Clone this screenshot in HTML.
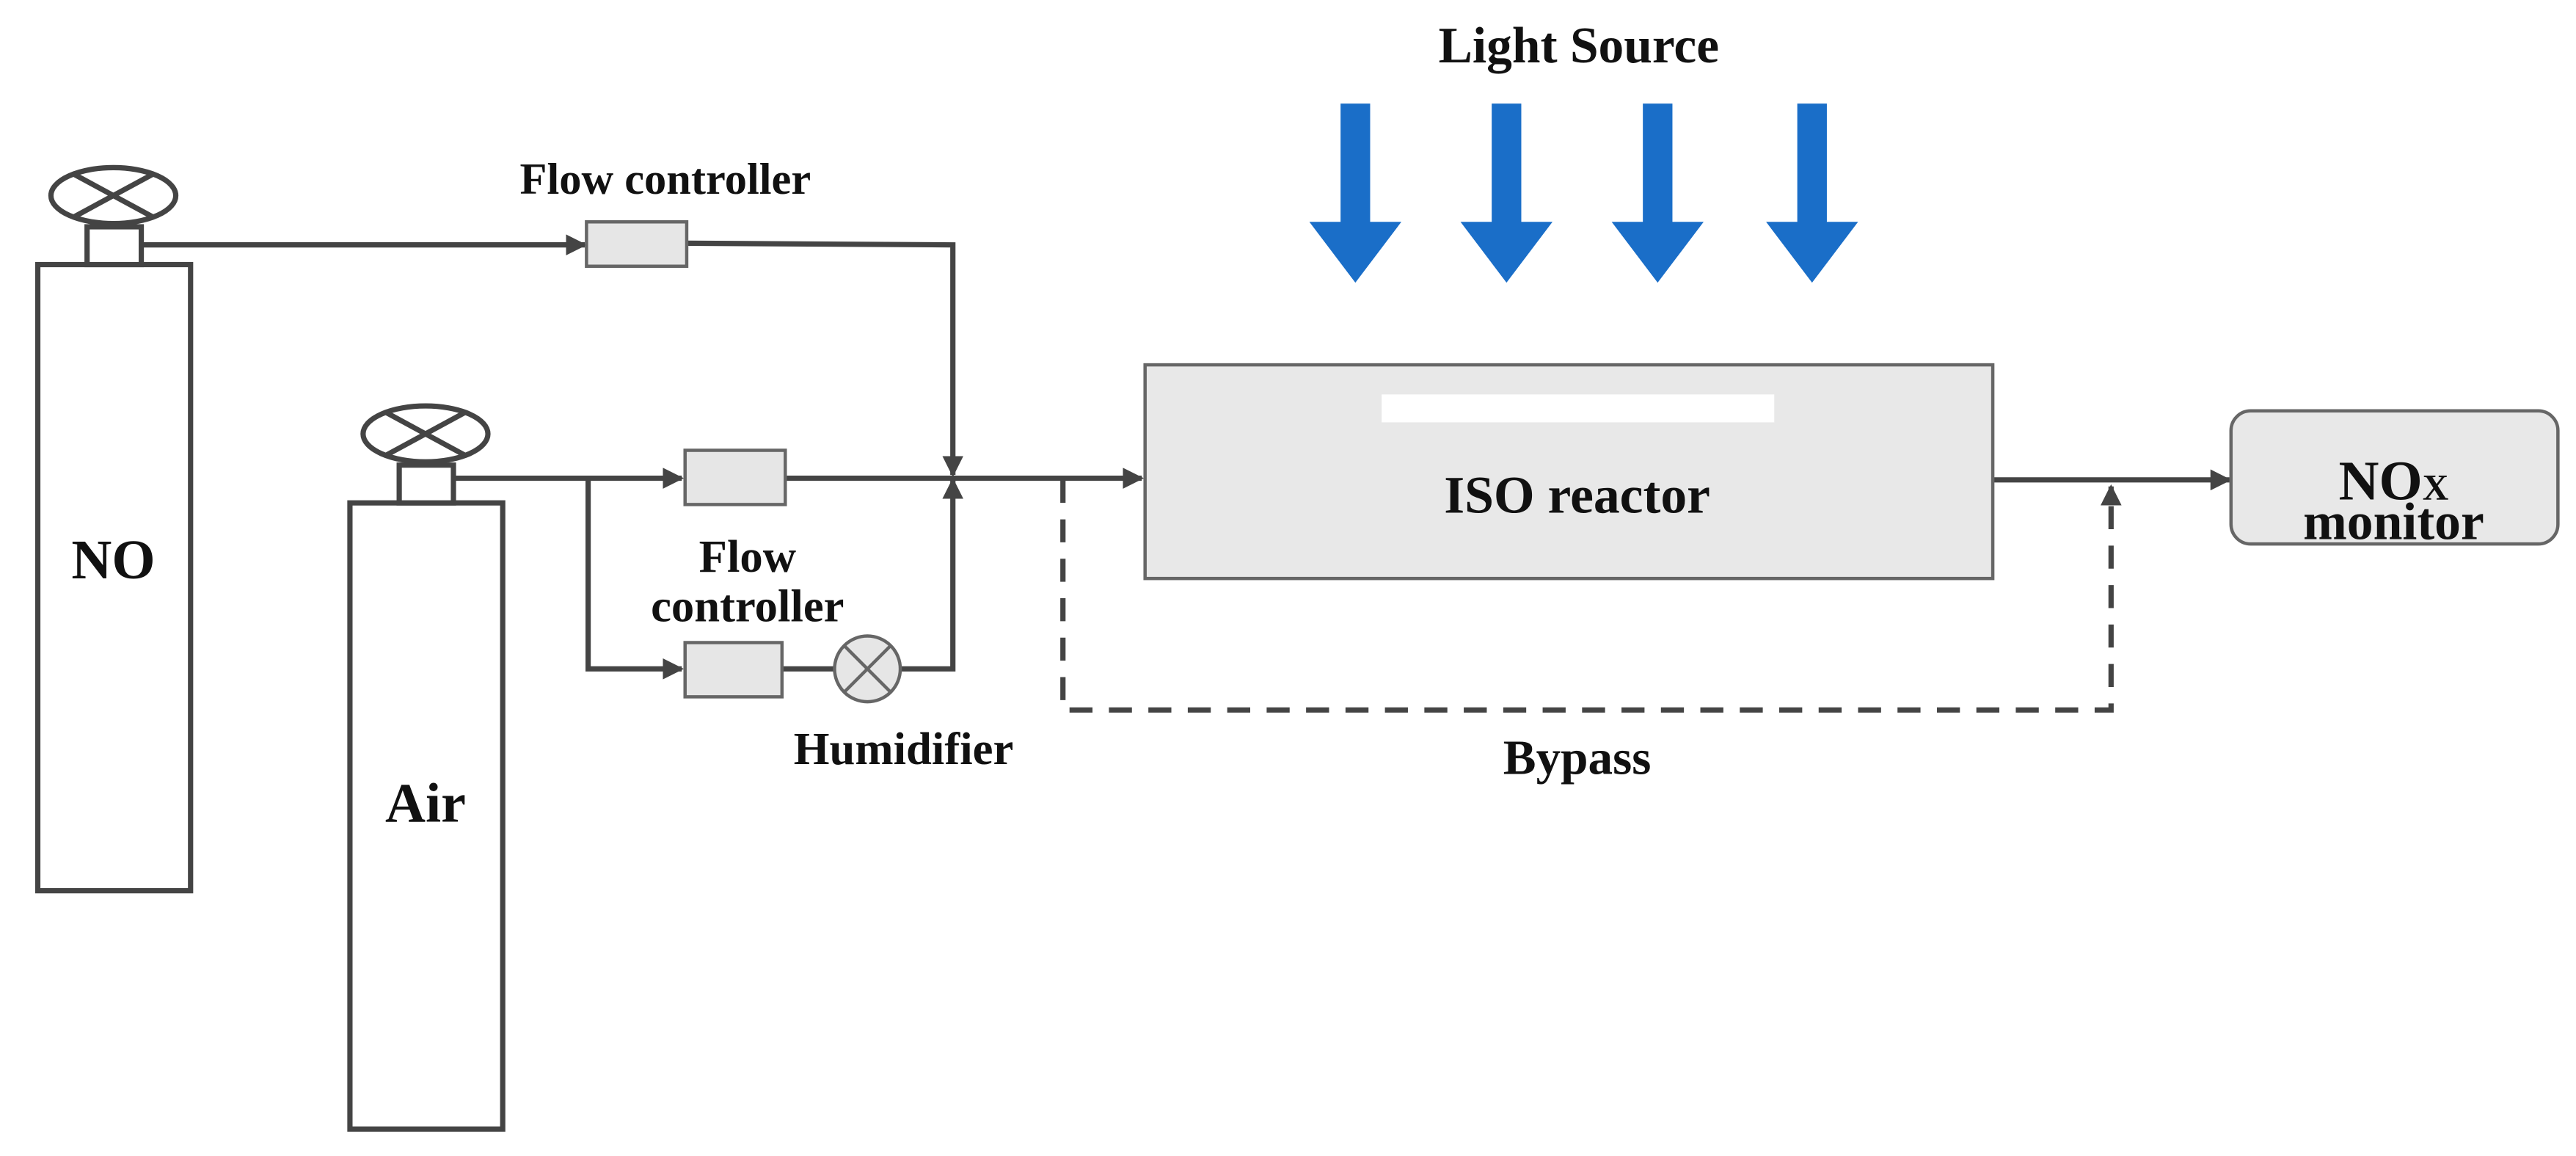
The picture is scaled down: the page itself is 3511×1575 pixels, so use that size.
<!DOCTYPE html>
<html><head><meta charset="utf-8"><style>
html,body{margin:0;padding:0;background:#fff;}
svg{display:block;}
text{font-family:"Liberation Serif",serif;font-weight:bold;fill:#111;text-anchor:middle;}
</style></head><body>
<svg width="3511" height="1575" viewBox="0 0 1568 703.4" preserveAspectRatio="none" xmlns="http://www.w3.org/2000/svg">
<defs>
<marker id="ah" viewBox="0 0 10 10" refX="9" refY="5" markerWidth="4" markerHeight="4" orient="auto" markerUnits="strokeWidth">
<path d="M0,0 L10,5 L0,10 z" fill="#444"/></marker>
</defs>
<g stroke="#444" stroke-width="3.2" fill="none">
<rect x="23" y="161" width="93" height="381" fill="#fff"/>
<rect x="53" y="138" width="33" height="23" fill="#fff"/>
<ellipse cx="69" cy="119" rx="38" ry="17" fill="#fff"/>
<line x1="45" y1="106" x2="93" y2="132"/><line x1="45" y1="132" x2="93" y2="106"/>
<rect x="213" y="306" width="93" height="381" fill="#fff"/>
<rect x="243" y="283" width="33" height="23" fill="#fff"/>
<ellipse cx="259" cy="264" rx="38" ry="17" fill="#fff"/>
<line x1="235" y1="251" x2="283" y2="277"/><line x1="235" y1="277" x2="283" y2="251"/>
<line x1="86" y1="149" x2="356" y2="149" marker-end="url(#ah)"/>
<polyline points="418,148 580,149 580,289" marker-end="url(#ah)"/>
<line x1="276" y1="291" x2="415" y2="291" marker-end="url(#ah)"/>
<line x1="478" y1="291" x2="695" y2="291" marker-end="url(#ah)"/>
<polyline points="358,291 358,407 415,407" marker-end="url(#ah)"/>
<line x1="476" y1="407" x2="508" y2="407"/>
<polyline points="548,407 580,407 580,292" marker-end="url(#ah)"/>
<line x1="1213" y1="292" x2="1357" y2="292" marker-end="url(#ah)"/>
<polyline points="647,292 647,432 1285,432 1285,296" stroke-dasharray="14,10" marker-end="url(#ah)"/>
</g>
<g stroke="#666" stroke-width="2" fill="#e6e6e6">
<rect x="357" y="135" width="61" height="27"/>
<rect x="417" y="274" width="61" height="33"/>
<rect x="417" y="391" width="59" height="33"/>
<circle cx="528" cy="407" r="20"/>
<line x1="514" y1="393" x2="542" y2="421"/><line x1="514" y1="421" x2="542" y2="393"/>
<rect x="697" y="222" width="516" height="130" fill="#e8e8e8"/>
<rect x="1358" y="250" width="199" height="81" rx="12" fill="#e8e8e8"/>
</g>
<rect x="841" y="240" width="239" height="17" fill="#fff"/>
<g fill="#1a6ec8">
<path d="M816,63h18v72h19l-28,37l-28,-37h19z"/>
<path d="M908,63h18v72h19l-28,37l-28,-37h19z"/>
<path d="M1000,63h18v72h19l-28,37l-28,-37h19z"/>
<path d="M1094,63h18v72h19l-28,37l-28,-37h19z"/>
</g>
<text x="961" y="38" font-size="31">Light Source</text>
<text x="405" y="118" font-size="27">Flow controller</text>
<text x="455" y="348" font-size="28">Flow</text>
<text x="455" y="378" font-size="28">controller</text>
<text x="550" y="465" font-size="28">Humidifier</text>
<text x="960" y="471" font-size="30">Bypass</text>
<text x="960" y="312" font-size="32">ISO reactor</text>
<text x="1457" y="304" font-size="34">NO<tspan font-size="22">X</tspan></text>
<text x="1457" y="328" font-size="32">monitor</text>
<text x="69" y="352" font-size="34">NO</text>
<text x="259" y="500" font-size="34">Air</text>
</svg>
</body></html>
